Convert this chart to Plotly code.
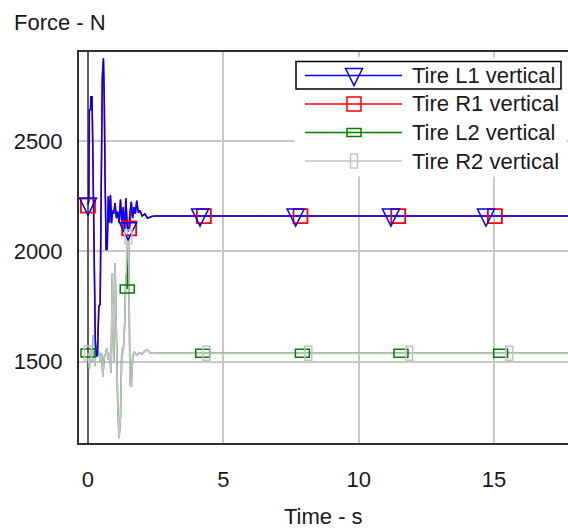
import numpy as np
import plotly.graph_objects as go

# ---------------- data ----------------
t_front = [0, 0.03, 0.05, 0.09, 0.11, 0.15, 0.19, 0.23, 0.27, 0.31,
           0.35, 0.40, 0.45, 0.49, 0.53, 0.57, 0.60, 0.63, 0.67, 0.71,
           0.75, 0.79, 0.83, 0.87, 0.91, 0.95, 1.00, 1.05, 1.10, 1.15,
           1.20, 1.25, 1.30, 1.35, 1.40, 1.45, 1.50, 1.55, 1.60, 1.65,
           1.70, 1.75, 1.80, 1.86, 1.92, 2.00, 2.10, 2.20, 2.35, 2.50, 20]
tire_L1 = [2210, 2230, 2640, 2640, 2700, 2700, 2350, 1900, 1600, 1523,
           1530, 1750, 1760, 2300, 2790, 2875, 2700, 2350, 2006, 2010,
           2250, 2130, 2255, 2128, 2185, 2170, 2219, 2150, 2180, 2130,
           2235, 2130, 2200, 2090, 2240, 2110, 2090, 2180, 2225, 2150,
           2200, 2170, 2230, 2175, 2185, 2160, 2170, 2150, 2158, 2160, 2160]
tire_R1 = [2207, 2230, 2640, 2640, 2700, 2700, 2350, 1900, 1600, 1523,
           1530, 1750, 1760, 2300, 2790, 2875, 2700, 2350, 2006, 2010,
           2250, 2130, 2255, 2128, 2185, 2170, 2219, 2150, 2180, 2130,
           2235, 2130, 2200, 2090, 2240, 2110, 2100, 2110, 2225, 2150,
           2200, 2170, 2230, 2175, 2185, 2160, 2170, 2150, 2158, 2160, 2160]

t_rear = [0, 0.05, 0.1, 0.15, 0.2, 0.25, 0.3, 0.35, 0.4, 0.45,
          0.5, 0.55, 0.6, 0.65, 0.7, 0.75, 0.8, 0.85, 0.9, 0.95,
          1.0, 1.05, 1.1, 1.15, 1.2, 1.25, 1.3, 1.35, 1.4, 1.45,
          1.5, 1.55, 1.6, 1.65, 1.7, 1.8, 1.9, 2.0, 2.1, 2.2,
          2.3, 2.5, 20]
tire_L2 = [1540, 1470, 1550, 1500, 1620, 1480, 1560, 1530, 1545, 1500,
           1540, 1432, 1520, 1535, 1560, 1510, 1540, 1450, 1900, 1500,
           1946, 1530, 1300, 1154, 1250, 1560, 1540, 1650, 1900, 1830,
           2060, 1400, 1387, 1520, 1545, 1530, 1540, 1535, 1550, 1553,
           1540, 1538, 1538]
tire_R2 = [1540, 1470, 1550, 1500, 1620, 1480, 1560, 1530, 1545, 1500,
           1540, 1432, 1520, 1535, 1560, 1510, 1540, 1450, 1900, 1500,
           1946, 1530, 1300, 1154, 1250, 1560, 1540, 1650, 1900, 2090,
           2060, 1400, 1387, 1520, 1545, 1530, 1540, 1535, 1550, 1553,
           1540, 1538, 1538]

mark_t_L1 = [0, 1.48, 4.14, 7.67, 11.19, 14.70]
mark_t_R1 = [0, 1.52, 4.28, 7.85, 11.46, 15.03]
mark_t_L2 = [0, 1.45, 4.24, 7.92, 11.56, 15.24]
mark_t_R2 = [0, 1.49, 4.38, 8.14, 11.86, 15.56]

series_names = ["Tire L1 vertical", "Tire R1 vertical", "Tire L2 vertical", "Tire R2 vertical"]
x_ticks = [0, 5, 10, 15]
y_ticks = [1500, 2000, 2500]
x_title = "Time - s"
y_title = "Force - N"

# ---------------- layout constants (screenshot pixels, body margin removed) ----------------
W, H = 568, 528
PL, PT, PW, PH = 79, 52, 489, 391
ML, MT = PL, PT
MR = W - ML - PW
MB = H - MT - PH
BLUE, RED, GREEN, GRAY = "#0000ff", "#ff0000", "#008000", "#c4c4c4"
FONT = "Liberation Sans, Arial, sans-serif"
TXT = "#1a1a1a"


def pxx(p):
    return (p - PL) / PW


def pxy(p):
    return (PT + PH - p) / PH


TRI_PATH = "M-8.5,7 L8.5,7 L0,-10 Z"

fig = go.Figure()

# lines (blue drawn last, on top)
fig.add_trace(go.Scatter(x=t_front, y=tire_R1, mode="lines", line=dict(color=RED, width=1.5),
                         name=series_names[1], showlegend=False))
fig.add_trace(go.Scatter(x=t_rear, y=tire_L2, mode="lines", line=dict(color=GREEN, width=1.5),
                         name=series_names[2], showlegend=False))
fig.add_trace(go.Scatter(x=t_rear, y=tire_R2, mode="lines", line=dict(color=GRAY, width=1.6),
                         name=series_names[3], showlegend=False))
fig.add_trace(go.Scatter(x=t_front, y=tire_L1, mode="lines", line=dict(color=BLUE, width=1.5),
                         name=series_names[0], showlegend=False))

# red square markers
fig.add_trace(go.Scatter(x=mark_t_R1, y=np.interp(mark_t_R1, t_front, tire_R1), mode="markers",
                         marker=dict(symbol="square-open", size=14, color=RED, line=dict(width=1.8)),
                         showlegend=False, hoverinfo="skip"))

shapes = []
# blue triangles
for tt in mark_t_L1:
    yy = float(np.interp(tt, t_front, tire_L1))
    shapes.append(dict(type="path", xref="x", yref="y", xsizemode="pixel", ysizemode="pixel",
                       xanchor=tt, yanchor=yy, path=TRI_PATH,
                       line=dict(color=BLUE, width=1.5), fillcolor="rgba(0,0,0,0)", layer="above"))
# green flat rectangles
for tt in mark_t_L2:
    yy = float(np.interp(tt, t_rear, tire_L2))
    shapes.append(dict(type="rect", xref="x", yref="y", xsizemode="pixel", ysizemode="pixel",
                       xanchor=tt, yanchor=yy, x0=-7, x1=7, y0=-4, y1=4,
                       line=dict(color=GREEN, width=1.5), fillcolor="rgba(0,0,0,0)", layer="above"))
# gray tall rectangles
for tt in mark_t_R2:
    yy = float(np.interp(tt, t_rear, tire_R2))
    shapes.append(dict(type="rect", xref="x", yref="y", xsizemode="pixel", ysizemode="pixel",
                       xanchor=tt, yanchor=yy, x0=-3.5, x1=3.5, y0=-7, y1=7,
                       line=dict(color=GRAY, width=1.5), fillcolor="rgba(0,0,0,0)", layer="above"))

# ---------------- custom legend ----------------
shapes.append(dict(type="rect", xref="paper", yref="paper", x0=pxx(295), x1=pxx(566), y0=pxy(58), y1=pxy(176),
                   line=dict(color="white", width=1), fillcolor="white", layer="above"))
rows_y = [75.5, 104, 132.5, 161]
colors = [BLUE, RED, GREEN, GRAY]
annotations = []
for i, (name, col, ry) in enumerate(zip(series_names, colors, rows_y)):
    shapes.append(dict(type="line", xref="paper", yref="paper", x0=pxx(305), x1=pxx(402),
                       y0=pxy(ry), y1=pxy(ry), line=dict(color=col, width=1.5), layer="above"))
    base = dict(xref="paper", yref="paper", xsizemode="pixel", ysizemode="pixel",
                xanchor=pxx(354), yanchor=pxy(ry), line=dict(color=col, width=1.5),
                fillcolor="rgba(0,0,0,0)", layer="above")
    if i == 0:
        shapes.append(dict(type="path", path=TRI_PATH, **base))
    elif i == 1:
        shapes.append(dict(type="rect", x0=-7, x1=7, y0=-7, y1=7, **base))
    elif i == 2:
        shapes.append(dict(type="rect", x0=-7, x1=7, y0=-4, y1=4, **base))
    else:
        shapes.append(dict(type="rect", x0=-3.5, x1=3.5, y0=-7, y1=7, **base))
    annotations.append(dict(text=name, xref="paper", yref="paper", x=pxx(410), y=pxy(ry),
                            xanchor="left", yanchor="middle", showarrow=False,
                            font=dict(family=FONT, size=22, color=TXT)))
shapes.append(dict(type="rect", xref="paper", yref="paper", x0=pxx(296), x1=pxx(561), y0=pxy(61.5), y1=pxy(89),
                   line=dict(color="black", width=1.5), fillcolor="rgba(0,0,0,0)", layer="above"))

# axis titles
annotations.append(dict(text=y_title, xref="paper", yref="paper", x=pxx(12), y=pxy(22),
                        xanchor="left", yanchor="middle", showarrow=False,
                        font=dict(family=FONT, size=22, color=TXT)))
annotations.append(dict(text=x_title, xref="paper", yref="paper", x=pxx(323), y=pxy(516),
                        xanchor="center", yanchor="middle", showarrow=False,
                        font=dict(family=FONT, size=22, color=TXT)))

fig.update_layout(
    width=W, height=H,
    margin=dict(l=ML, r=MR, t=MT, b=MB, pad=0),
    paper_bgcolor="white", plot_bgcolor="white",
    showlegend=False,
    shapes=shapes, annotations=annotations,
    font=dict(family=FONT, size=22, color=TXT),
    xaxis=dict(range=[-0.332, 17.73], tickvals=x_ticks, showgrid=True, gridcolor="#c8c8c8", gridwidth=2,
               zeroline=True, zerolinecolor="#606060", zerolinewidth=1.5,
               showline=True, linecolor="#303030", linewidth=2, mirror=True,
               ticks="", ticklabelstandoff=16, tickfont=dict(size=22, family=FONT, color=TXT)),
    yaxis=dict(range=[1132, 2903], tickvals=y_ticks, showgrid=True, gridcolor="#c8c8c8", gridwidth=2,
               zeroline=False, showline=True, linecolor="#303030", linewidth=2, mirror=False,
               ticks="", ticklabelstandoff=10, tickfont=dict(size=22, family=FONT, color=TXT)),
)

fig.write_html("out.html", config={"displayModeBar": False},
               post_script="document.documentElement.style.overflow='hidden';"
                           "document.body.style.overflow='hidden';"
                           "document.body.style.margin='0';")
